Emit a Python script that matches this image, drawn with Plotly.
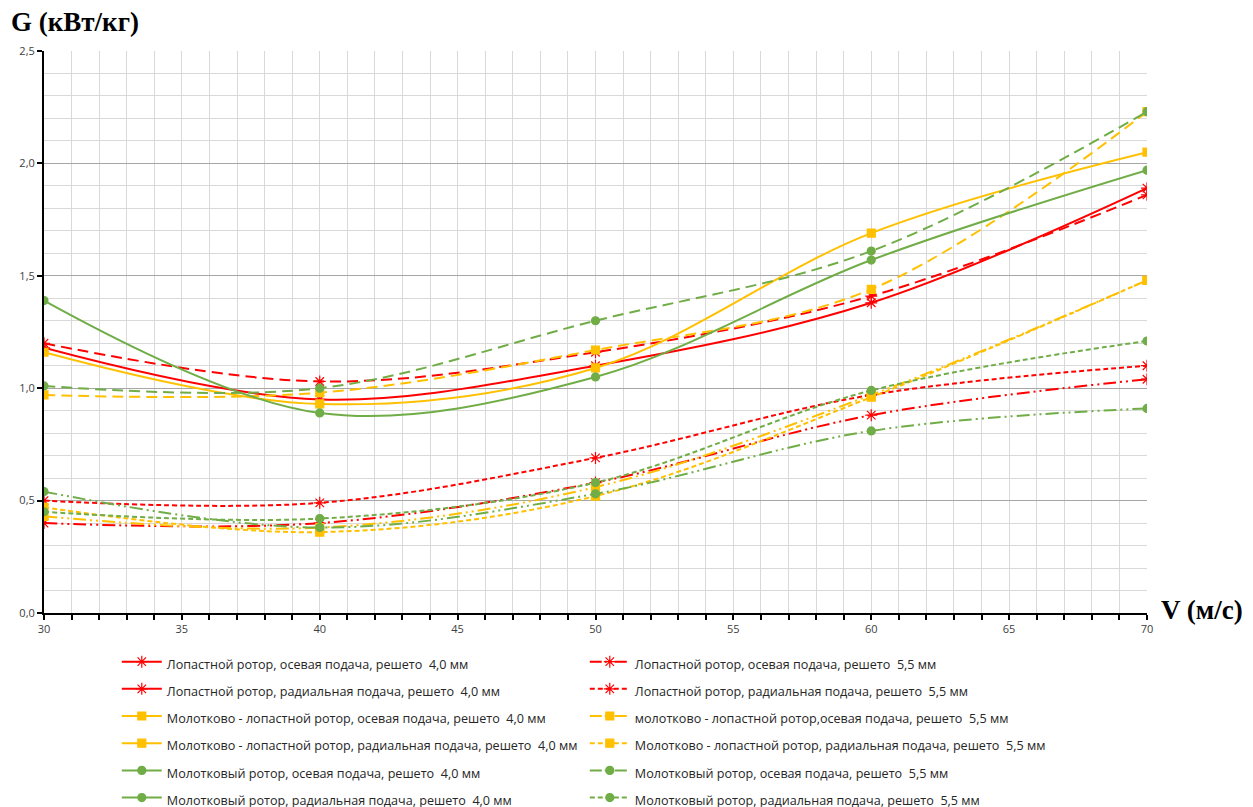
import plotly.graph_objects as go

# ---- data ----
V = [30, 40, 50, 60, 70]

NB = "\u00a0"
names = [
    "Лопастной ротор, осевая подача, решето " + NB + "4,0 мм",
    "Лопастной ротор, радиальная подача, решето " + NB + "4,0 мм",
    "Молотково - лопастной ротор, осевая подача, решето " + NB + "4,0 мм",
    "Молотково - лопастной ротор, радиальная подача, решето " + NB + "4,0 мм",
    "Молотковый ротор, осевая подача, решето " + NB + "4,0 мм",
    "Молотковый ротор, радиальная подача, решето " + NB + "4,0 мм",
    "Лопастной ротор, осевая подача, решето " + NB + "5,5 мм",
    "Лопастной ротор, радиальная подача, решето " + NB + "5,5 мм",
    "молотково - лопастной ротор,осевая подача, решето " + NB + "5,5 мм",
    "Молотково - лопастной ротор, радиальная подача, решето " + NB + "5,5 мм",
    "Молотковый ротор, осевая подача, решето " + NB + "5,5 мм",
    "Молотковый ротор, радиальная подача, решето " + NB + "5,5 мм",
]

lop_os_40 = [1.18, 0.95, 1.10, 1.38, 1.89]
lop_rad_40 = [1.20, 1.03, 1.16, 1.41, 1.86]
mol_lop_os_40 = [1.16, 0.93, 1.09, 1.69, 2.05]
mol_lop_rad_40 = [0.97, 0.98, 1.17, 1.44, 2.23]
mol_os_40 = [1.39, 0.89, 1.05, 1.57, 1.97]
mol_rad_40 = [1.01, 1.00, 1.30, 1.61, 2.23]

lop_os_55 = [0.40, 0.40, 0.58, 0.88, 1.04]
lop_rad_55 = [0.50, 0.49, 0.69, 0.97, 1.10]
mol_lop_os_55 = [0.43, 0.38, 0.56, 0.97, 1.48]
mol_lop_rad_55 = [0.47, 0.36, 0.52, 0.96, 1.48]
mol_os_55 = [0.54, 0.38, 0.53, 0.81, 0.91]
mol_rad_55 = [0.45, 0.42, 0.58, 0.99, 1.21]

values = [lop_os_40, lop_rad_40, mol_lop_os_40, mol_lop_rad_40, mol_os_40, mol_rad_40,
          lop_os_55, lop_rad_55, mol_lop_os_55, mol_lop_rad_55, mol_os_55, mol_rad_55]

# ---- styles ----
RED, YEL, GRN = "#FF0000", "#FFC000", "#70AD47"
LONG = "11px,6px"
SHORT = "5px,3px"
DDOT = "13px,4px,2px,4px,2px,4px"
LDDOT = "12px,3px,2px,3px,2px,3px"
colors = [RED, RED, YEL, YEL, GRN, GRN, RED, RED, YEL, YEL, GRN, GRN]
dashes = ["solid", LONG, "solid", LONG, "solid", LONG, DDOT, SHORT, DDOT, SHORT, DDOT, SHORT]
legend_dashes = ["solid"] * 6 + [LDDOT, SHORT, LDDOT, SHORT, LDDOT, SHORT]
symbols = ["asterisk-open", "asterisk-open", "square", "square", "circle", "circle"] * 2
sizes = [10, 10, 8, 8, 8, 8] * 2

fig = go.Figure()
for i, (nm, y) in enumerate(zip(names, values)):
    mk = dict(symbol=symbols[i], size=sizes[i], color=colors[i],
              line=dict(color=colors[i], width=1.2))
    fig.add_trace(go.Scatter(
        x=V, y=y, mode="lines+markers", name=nm, showlegend=False,
        line=dict(color=colors[i], width=2, dash=dashes[i], shape="spline", smoothing=1.0),
        marker=mk, hoverinfo="x+y+name"))

# legend entries (two columns: 4,0 mm left, 5,5 mm right)
for r in range(6):
    for c in range(2):
        i = r + 6 * c
        mk = dict(symbol=symbols[i], size=sizes[i], color=colors[i],
                  line=dict(color=colors[i], width=1.2))
        fig.add_trace(go.Scatter(
            x=[None], y=[None], mode="lines+markers",
            name='<span style="font-size:12.6px">' + names[i] + "</span>",
            line=dict(color=colors[i], width=2, dash=legend_dashes[i]),
            marker=mk, showlegend=True, hoverinfo="skip"))

fig.update_layout(
    width=1253, height=807,
    margin=dict(l=36, r=114, t=43, b=202, autoexpand=False),
    paper_bgcolor="white", plot_bgcolor="white",
    separators=", ",
    font=dict(family="Open Sans", size=12, color="#262626"),
    showlegend=True,
    legend=dict(orientation="h", x=0.066, xanchor="left", y=-0.0535, yanchor="top",
                entrywidth=413, itemwidth=40, traceorder="normal",
                font=dict(family="Open Sans", size=18.6, color="#262626"),
                bgcolor="rgba(0,0,0,0)", tracegroupgap=0),
    xaxis=dict(range=[30, 70], dtick=5, tick0=30, showgrid=True, gridcolor="#D9D9D9",
               gridwidth=1, zeroline=False, showline=True, linecolor="#000000", linewidth=2,
               ticks="outside", ticklen=5, tickcolor="#000000", tickwidth=1.5,
               tickfont=dict(family="Open Sans", size=11, color="#404040"),
               minor=dict(dtick=1, showgrid=True, gridcolor="#D9D9D9", gridwidth=1,
                          ticks="outside", ticklen=5, tickcolor="#000000", tickwidth=1.5),
               mirror=False),
    yaxis=dict(range=[0, 2.5], dtick=0.5, tick0=0, tickformat=".1f", showgrid=True,
               gridcolor="#A6A6A6", gridwidth=1, zeroline=False, showline=True,
               linecolor="#000000", linewidth=2, ticks="outside", ticklen=5,
               tickcolor="#000000", tickwidth=1.5,
               tickfont=dict(family="Open Sans", size=11, color="#404040"),
               minor=dict(dtick=0.1, showgrid=True, gridcolor="#D9D9D9", gridwidth=1)),
    annotations=[
        dict(text="<b>G (кВт/кг)</b>", xref="paper", yref="paper", x=0, y=1.0,
             xshift=-35, yshift=29, xanchor="left", yanchor="middle", showarrow=False,
             font=dict(family="Liberation Serif", size=27, color="#000000")),
        dict(text="<b>V (м/с)</b>", xref="paper", yref="paper", x=1.0, y=0.0,
             xshift=12, yshift=3, xanchor="left", yanchor="middle", showarrow=False,
             font=dict(family="Liberation Serif", size=27, color="#000000")),
    ],
)

fig.write_html("out.html")
